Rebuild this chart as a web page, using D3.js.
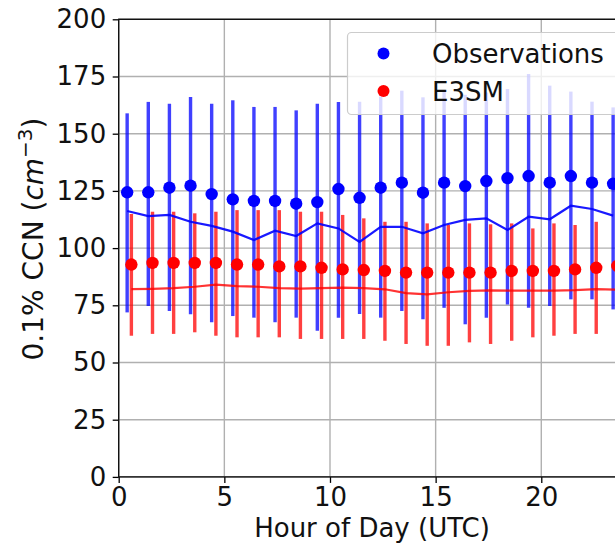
<!DOCTYPE html>
<html>
<head>
<meta charset="utf-8">
<script src="https://cdn.jsdelivr.net/npm/d3@7"></script>
<style>
  html, body { margin: 0; padding: 0; background: #fff; }
  svg { display: block; font-family: "DejaVu Sans", sans-serif; }
</style>
</head>
<body>
<svg id="chart" width="615" height="545"></svg>
<script>
// Diurnal cycle of 0.1% CCN: observations vs. E3SM, one entry per UTC hour
const hours = d3.range(24);

// Observations: marker value, whisker low/high, line
const obsMarker = [124.4,124.4,126.4,127.3,123.6,121.3,120.6,120.6,119.4,120.1,125.8,122.0,
                   126.4,128.6,124.2,128.6,127.1,129.3,130.6,131.5,128.6,131.5,128.6,128.1];
const obsLow    = [71.9,74.7,72.5,71.1,67.6,70.3,69.6,67.6,69.6,63.9,69.6,71.2,
                   69.6,72.5,68.9,73.9,66.7,69.6,75.4,73.9,74.7,77.6,77.6,73.2];
const obsHigh   = [158.9,163.9,163.1,166.0,163.1,164.6,161.7,161.7,160.2,163.1,163.9,164.0,
                   166.2,168.8,165.9,169.0,167.0,168.0,169.5,176.1,171.0,168.4,164.0,161.5];
const obsLine   = [116.2,114.0,114.5,111.5,109.7,107.2,103.5,107.6,105.3,110.8,108.6,102.7,
                   109.3,109.3,106.5,110.1,112.3,113.0,107.9,113.7,112.6,118.5,117.1,114.2];

// E3SM: marker value, whisker low/high, line
const modMarker = [92.8,93.5,93.5,93.5,93.5,92.8,92.8,92.0,92.0,91.4,90.7,90.4,
                   90.0,89.3,89.3,89.3,89.3,89.3,90.0,90.0,90.0,90.7,91.4,92.2];
const modLow    = [61.7,62.5,62.5,63.2,61.7,61.0,61.0,61.0,60.3,60.3,60.3,60.3,
                   59.5,58.1,57.3,57.3,58.8,58.1,59.5,61.0,61.7,62.5,62.5,62.5];
const modHigh   = [114.9,115.9,115.9,115.2,115.9,116.6,116.6,116.6,115.9,115.9,114.5,113.0,
                   111.5,111.5,110.8,110.1,110.8,110.4,110.8,108.6,110.8,110.1,111.5,111.0];
const modLine   = [82.1,82.2,82.5,83.1,84.0,83.4,83.1,82.5,82.3,82.5,82.7,82.5,
                   82.0,80.3,79.8,80.7,81.3,81.5,81.4,81.4,81.4,81.6,82.1,81.8];

const xTicks = [0, 5, 10, 15, 20];
const yTicks = [0, 25, 50, 75, 100, 125, 150, 175, 200];
const seriesNames = ["Observations", "E3SM"];

// Hour-of-day placement of each series within the hour bin
const obsX = hours.map(h => h + 0.4);
const modX = hours.map(h => h + 0.6);

const svg = d3.select("#chart");
const margin = { left: 118.7, top: 19.3, right: 625.8, bottom: 476.9 };

const x = d3.scaleLinear().domain([0, 24]).range([margin.left, margin.right]);
const y = d3.scaleLinear().domain([0, 200]).range([margin.bottom, margin.top]);

const BLUE = "#0000ff", RED = "#ff0000";
const FONT = 26;
const INK = "#111";

// grid
const grid = svg.append("g");
grid.selectAll(".gx").data(xTicks).join("line")
  .attr("x1", d => x(d)).attr("x2", d => x(d))
  .attr("y1", margin.top).attr("y2", margin.bottom)
  .attr("stroke", "#b0b0b0").attr("stroke-width", 1.4);
grid.selectAll(".gy").data(yTicks).join("line")
  .attr("x1", margin.left).attr("x2", margin.right)
  .attr("y1", d => y(d)).attr("y2", d => y(d))
  .attr("stroke", "#b0b0b0").attr("stroke-width", 1.4);

// error-bar series
function drawSeries(xs, marker, low, high, color) {
  const g = svg.append("g");
  g.selectAll("line").data(hours).join("line")
    .attr("x1", i => x(xs[i])).attr("x2", i => x(xs[i]))
    .attr("y1", i => y(low[i])).attr("y2", i => y(high[i]))
    .attr("stroke", color).attr("stroke-opacity", 0.75).attr("stroke-width", 3.4);
  g.selectAll("circle").data(hours).join("circle")
    .attr("cx", i => x(xs[i])).attr("cy", i => y(marker[i])).attr("r", 6.2)
    .attr("fill", color);
}
drawSeries(obsX, obsMarker, obsLow, obsHigh, BLUE);
drawSeries(modX, modMarker, modLow, modHigh, RED);

const line = d3.line().x(d => x(d[0])).y(d => y(d[1]));
svg.append("path").datum(hours.map(i => [obsX[i], obsLine[i]]))
  .attr("d", line).attr("fill", "none").attr("stroke", BLUE)
  .attr("stroke-width", 2.2).attr("stroke-opacity", 0.9);
svg.append("path").datum(hours.map(i => [modX[i], modLine[i]]))
  .attr("d", line).attr("fill", "none").attr("stroke", RED)
  .attr("stroke-width", 2.2).attr("stroke-opacity", 0.8);

// axes
const xAxis = svg.append("g").attr("transform", `translate(0,${margin.bottom})`)
  .call(d3.axisBottom(x).tickValues(xTicks).tickSize(6).tickPadding(5));
const yAxis = svg.append("g").attr("transform", `translate(${margin.left},0)`)
  .call(d3.axisLeft(y).tickValues(yTicks).tickSize(6).tickPadding(6.5));
[xAxis, yAxis].forEach(a => {
  a.select(".domain").remove();
  a.selectAll(".tick line").attr("stroke", "#000").attr("stroke-width", 1.3);
  a.selectAll(".tick text").attr("font-size", FONT)
    .attr("font-family", "DejaVu Sans").attr("fill", INK);
});

// frame
svg.append("rect")
  .attr("x", margin.left).attr("y", margin.top)
  .attr("width", margin.right - margin.left).attr("height", margin.bottom - margin.top)
  .attr("fill", "none").attr("stroke", "#111").attr("stroke-width", 1.4);

// axis titles
svg.append("text")
  .attr("x", 372).attr("y", 537)
  .attr("text-anchor", "middle").attr("font-size", FONT).attr("fill", INK)
  .text("Hour of Day (UTC)");

const yl = svg.append("text")
  .attr("transform", "translate(42.5,239) rotate(-90)")
  .attr("text-anchor", "middle").attr("font-size", 28).attr("fill", INK);
yl.append("tspan").text("0.1% CCN (");
yl.append("tspan").attr("font-style", "italic").text("cm");
yl.append("tspan").attr("font-size", 20).attr("dy", -11).text("\u22123");
yl.append("tspan").attr("dy", 11).text(")");

// legend
const legend = svg.append("g");
legend.append("rect")
  .attr("x", 347.5).attr("y", 32.5).attr("width", 300).attr("height", 82)
  .attr("rx", 4).attr("fill", "#fff").attr("fill-opacity", 0.8)
  .attr("stroke", "#cccccc").attr("stroke-width", 1.2);
const legendColors = [BLUE, RED];
const rows = legend.selectAll(".row").data(seriesNames).join("g")
  .attr("transform", (d, i) => `translate(0,${53.5 + i * 37.5})`);
rows.append("circle").attr("cx", 383.5).attr("cy", 0).attr("r", 6)
  .attr("fill", (d, i) => legendColors[i]);
rows.append("text").attr("x", 432).attr("y", 9.5)
  .attr("font-size", FONT).attr("fill", INK).text(d => d);
</script>
</body>
</html>
